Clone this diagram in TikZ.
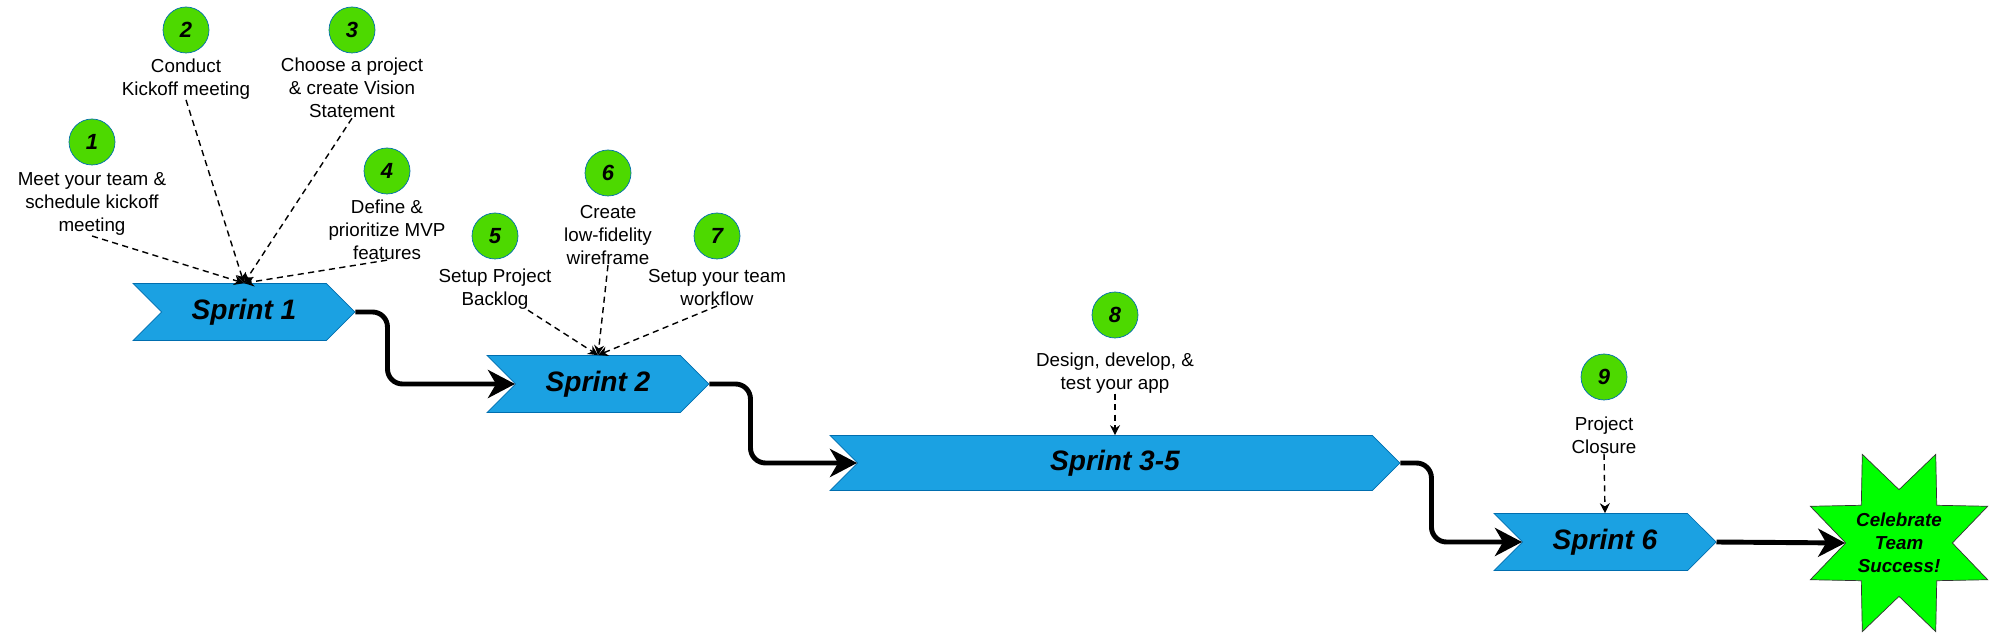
\documentclass[tikz,border=0pt]{standalone}
\usepackage{fontspec}
\setmainfont{Liberation Sans}
\usepackage{xcolor}
\usepackage{tikz}
\usetikzlibrary{positioning,arrows.meta,shapes.symbols,shapes.geometric,calc}
\definecolor{sprintblue}{HTML}{1BA1E2}
\definecolor{sprintline}{HTML}{006EAF}
\definecolor{stepgreen}{HTML}{4DD900}
\definecolor{wingreen}{HTML}{00FF00}
\tikzset{
sprint/.style={
signal,
signal to=east,
signal from=west,
draw=sprintline,
fill=sprintblue,
minimum width=4.44cm,
minimum height=1.14cm,
inner sep=0pt,
font=\fontsize{16}{19}\selectfont\bfseries\itshape
},
num/.style={
circle,
draw=sprintline,
fill=stepgreen,
minimum size=0.92cm,
inner sep=0pt,
font=\fontsize{12.5}{14}\selectfont\bfseries\itshape
},
note/.style={
align=center,
inner sep=0pt,
font=\fontsize{10.7}{13.1}\selectfont
},
flow/.style={
-{Stealth[length=5.4mm,width=5.6mm,inset=1.6mm]},
line width=2.8pt,
rounded corners=0.3cm
},
hint/.style={
-{Stealth[length=2mm,width=2mm]},
dash pattern=on 3.5pt off 2.5pt,
line width=0.8pt
}
}

\begin{document}
\begin{tikzpicture}[x=0.02cm,y=-0.02cm]
\useasboundingbox (0,0) rectangle (2000,641);

% sprints
\node[sprint](s1) at (244,312){Sprint 1};
\node[sprint](s2) at (598,384){Sprint 2};
\node[sprint,minimum width=11.4cm,minimum height=1.1cm](s35) at (1115,463){Sprint 3-5};
\node[sprint](s6) at (1605,542){Sprint 6};
\node[star,star points=8,star point ratio=1.8,shape border rotate=22.5,
draw=black!80,fill=wingreen,minimum size=3.84cm,inner sep=0pt,
label={[align=center,font=\fontsize{10.7}{13.1}\selectfont\bfseries\itshape]center:Celebrate\\Team\\Success!}](win) at (1899,543){};

% steps
\node[num](c1) at (92,142){1};
\node[note,below=4pt of c1](t1){Meet your team \&\\schedule kickoff\\meeting};
\node[num](c2) at (186,30){2};
\node[note,below=3pt of c2](t2){Conduct\\Kickoff meeting};
\node[num](c3) at (352,30){3};
\node[note,below=2.5pt of c3](t3){Choose a project\\\& create Vision\\Statement};
\node[num](c4) at (387,171){4};
\node[note,below=3pt of c4](t4){Define \&\\prioritize MVP\\features};
\node[num](c5) at (495,236){5};
\node[note,below=5.5pt of c5](t5){Setup Project\\Backlog};
\node[num](c6) at (608,173){6};
\node[note,below=5pt of c6](t6){Create\\low-fidelity\\wireframe};
\node[num](c7) at (717,236){7};
\node[note,below=5.5pt of c7](t7){Setup your team\\workflow};
\node[num](c8) at (1115,315){8};
\node[note,below=8pt of c8](t8){Design, develop, \&\\test your app};
\node[num](c9) at (1604,377){9};
\node[note,below=9pt of c9](t9){Project\\Closure};

% dashed hints
\foreach \t/\s in {t1/s1,t2/s1,t3/s1,t4/s1,t6/s2,t7/s2,t8/s35,t9/s6}
\draw[hint](\t.south)--(\s.north);
\draw[hint]($(t5.south)+(33,0)$)--(s2.north);

% main flow
\draw[flow](s1.east)--++(32,0)|-(s2.west);
\draw[flow](s2.east)--++(41,0)|-(s35.west);
\draw[flow](s35.east)--++(31,0)|-(s6.west);
\draw[flow](s6.east)--(win.west);
\end{tikzpicture}
\end{document}
